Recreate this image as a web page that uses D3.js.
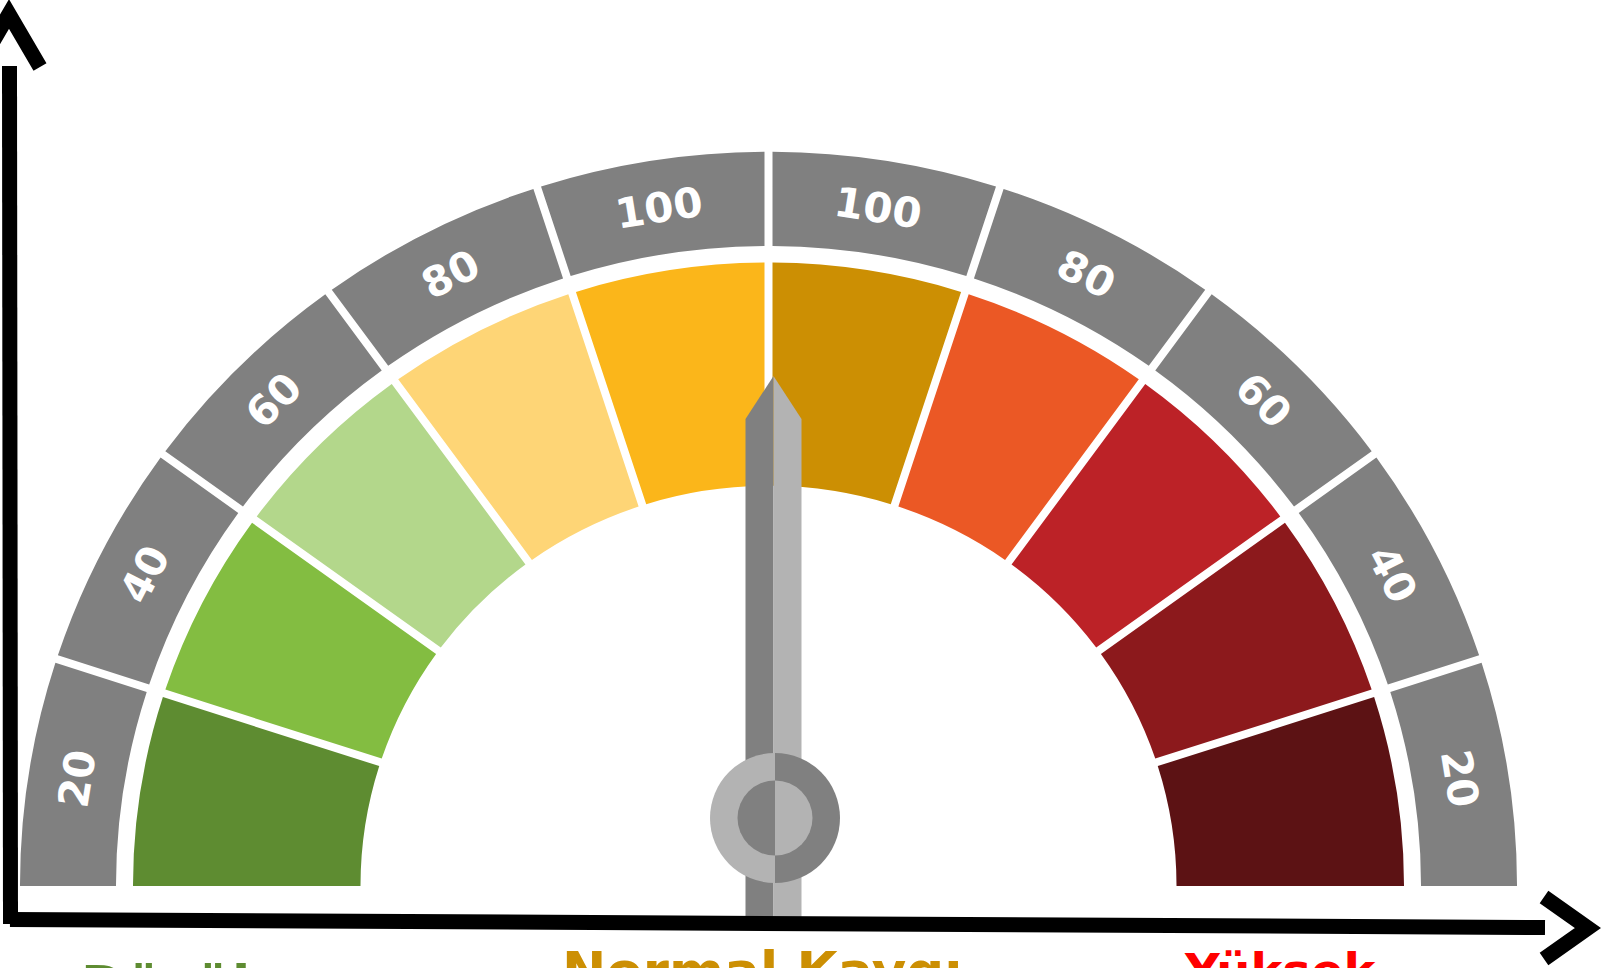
<!DOCTYPE html>
<html>
<head>
<meta charset="utf-8">
<script src="https://cdn.jsdelivr.net/npm/d3@7"></script>
<style>
  html, body { margin: 0; padding: 0; background: #ffffff; overflow: hidden; }
  svg { display: block; }
</style>
</head>
<body>
<svg id="chart" width="1601" height="968"></svg>
<script>
// ---------------- data ----------------
const tickLabels = ["20", "40", "60", "80", "100", "100", "80", "60", "40", "20"];
const segmentColors = ["#5e8c31", "#83bd41", "#b3d78b", "#fed576", "#fbb61a",
                       "#cc8f03", "#eb5825", "#bc2227", "#8c191c", "#5c1214"];
const categories = ["Düşük", "Normal Kaygı", "Yüksek"];
const categoryColors = ["#5e8c31", "#cc8f03", "#ff0000"];
const needleValue = 5;           // position on the 0..10 segment scale (straight up)

// ---------------- layout ----------------
const W = 1601, H = 968;
const cx = 768.5, cy = 886, yScale = 0.981;
const gray = "#808080", lightGray = "#b3b3b3";

const svg = d3.select("#chart");

// angle scale: 0..10 segments -> -90°..+90° (d3 arc convention, 0 = 12 o'clock)
const angle = d3.scaleLinear().domain([0, tickLabels.length]).range([-Math.PI / 2, Math.PI / 2]);

const defs = svg.append("defs");
defs.append("clipPath").attr("id", "upper")
  .append("rect").attr("x", -900).attr("y", -900).attr("width", 1800).attr("height", 900);

const gauge = svg.append("g")
  .attr("transform", `translate(${cx},${cy}) scale(1,${yScale})`)
  .attr("clip-path", "url(#upper)");

const n = tickLabels.length;
const ext = 0.05;
function startA(i) { return i === 0 ? angle(i) - ext : angle(i); }
function endA(i) { return i === n - 1 ? angle(i + 1) + ext : angle(i + 1); }

const grayArc = d3.arc().innerRadius(652.5).outerRadius(748.5)
  .padAngle(0.02).padRadius(400);
const colorArc = d3.arc().innerRadius(408).outerRadius(635.5)
  .padAngle(0.02).padRadius(400);

const idx = d3.range(n);

gauge.selectAll("path.ring").data(idx).join("path")
  .attr("class", "ring")
  .attr("d", i => grayArc({ startAngle: startA(i), endAngle: endA(i) }))
  .attr("fill", gray);

gauge.selectAll("path.seg").data(idx).join("path")
  .attr("class", "seg")
  .attr("d", i => colorArc({ startAngle: startA(i), endAngle: endA(i) }))
  .attr("fill", i => segmentColors[i]);

const labelR = 700;
gauge.selectAll("text.tick").data(idx).join("text")
  .attr("class", "tick")
  .attr("transform", i => {
    const a = (angle(i) + angle(i + 1)) / 2;
    const x = labelR * Math.sin(a), y = -labelR * Math.cos(a);
    return `translate(${x},${y}) rotate(${a * 180 / Math.PI})`;
  })
  .attr("text-anchor", "middle")
  .attr("dominant-baseline", "central")
  .attr("font-family", "DejaVu Sans")
  .attr("font-weight", "bold")
  .attr("font-size", 42)
  .attr("fill", "#ffffff")
  .text(i => tickLabels[i]);

// ---------------- needle ----------------
const pivot = { x: 773.5, y: 818 };
const needle = svg.append("g")
  .attr("transform", `translate(${pivot.x},${pivot.y}) rotate(${angle(needleValue) * 180 / Math.PI})`);
const tipY = -442, shoulderY = -399, tailY = 107, halfW = 28;
needle.append("path")
  .attr("d", d3.line()([[0, tipY], [-halfW, shoulderY], [-halfW, tailY], [0, tailY]]) + "Z")
  .attr("fill", gray);
needle.append("path")
  .attr("d", d3.line()([[0, tipY], [halfW, shoulderY], [halfW, tailY], [0, tailY]]) + "Z")
  .attr("fill", lightGray);

const hub = svg.append("g")
  .attr("transform", `translate(${pivot.x + 1.5},${pivot.y})`);
const half = d3.arc().innerRadius(0);
hub.append("path").attr("d", half.outerRadius(65)({ startAngle: -Math.PI, endAngle: 0 })).attr("fill", lightGray);
hub.append("path").attr("d", half.outerRadius(65)({ startAngle: 0, endAngle: Math.PI })).attr("fill", gray);
hub.append("path").attr("d", half.outerRadius(37.5)({ startAngle: -Math.PI, endAngle: 0 })).attr("fill", gray);
hub.append("path").attr("d", half.outerRadius(37.5)({ startAngle: 0, endAngle: Math.PI })).attr("fill", lightGray);

// ---------------- axes ----------------
const axisW = 15;
const axes = svg.append("g").attr("stroke", "#000").attr("stroke-width", axisW).attr("fill", "none");
axes.append("path").attr("d", d3.line()([[9.5, 66], [10.5, 924]]));
axes.append("path").attr("d", d3.line()([[10, 919.5], [1545, 927.5]]));
axes.append("path").attr("stroke-linejoin", "miter")
  .attr("d", d3.line()([[-22, 67], [9, 14], [40, 67]]));
axes.append("path").attr("stroke-linejoin", "miter")
  .attr("d", d3.line()([[1544, 897], [1588, 928], [1544, 959]]));

// ---------------- category labels ----------------
const catX = [81, 562, 1185];
const catY = [1004, 990, 988];
const catSize = [53, 53, 48];
svg.selectAll("text.cat").data(categories).join("text")
  .attr("class", "cat")
  .attr("x", (d, i) => catX[i])
  .attr("y", (d, i) => catY[i])
  .attr("font-family", "DejaVu Sans")
  .attr("font-weight", "bold")
  .attr("font-size", (d, i) => catSize[i])
  .attr("fill", (d, i) => categoryColors[i])
  .text(d => d);
</script>
</body>
</html>
